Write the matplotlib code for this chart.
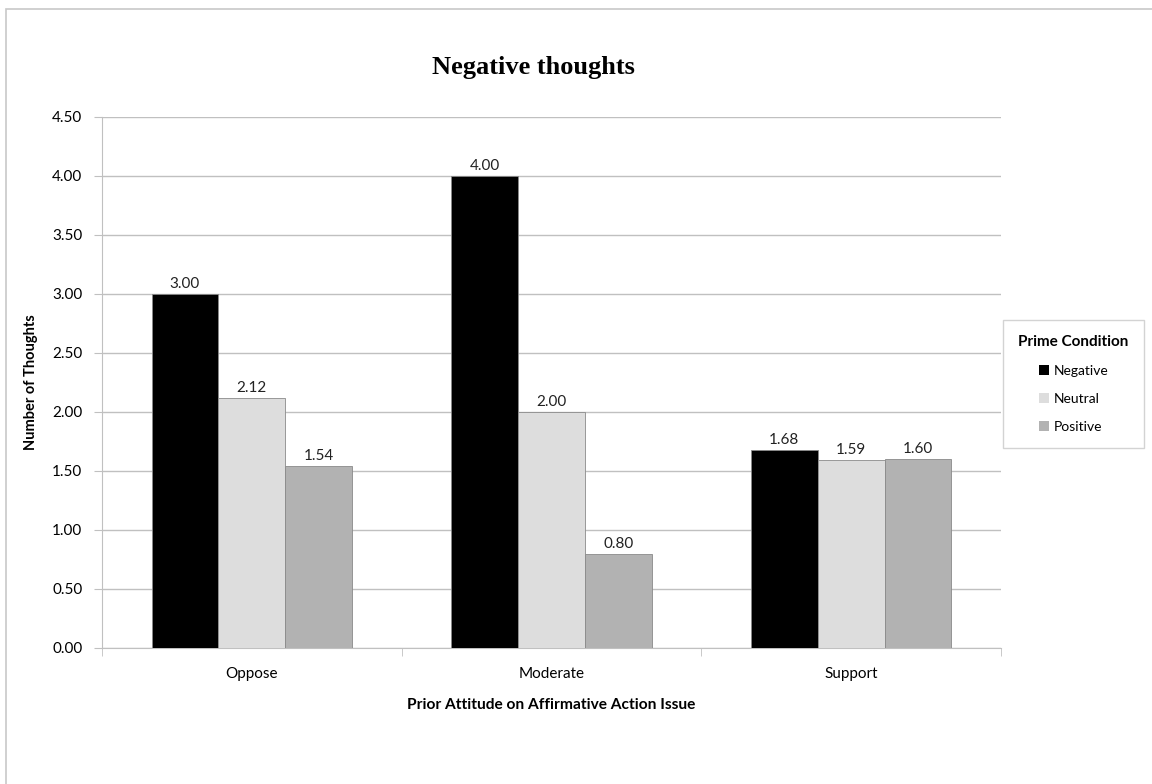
import numpy as np
import matplotlib.pyplot as plt
from matplotlib.patches import Rectangle

# Mean number of negative thoughts by prior attitude and prime condition
attitudes = ['Oppose', 'Moderate', 'Support']
conditions = ['Negative', 'Neutral', 'Positive']
negative = [3.00, 4.00, 1.68]
neutral = [2.12, 2.00, 1.59]
positive = [1.54, 0.80, 1.60]
yticks = [0.0, 0.5, 1.0, 1.5, 2.0, 2.5, 3.0, 3.5, 4.0, 4.5]

colors = ['#000000', '#dddddd', '#b2b2b2']
grid_col = '#c0c0c0'

plt.rcParams['font.family'] = ['Lato', 'DejaVu Sans']

fig = plt.figure(figsize=(11.52, 7.84), dpi=100)
ax = fig.add_axes([0.0885, 0.1735, 0.7805, 0.6775])

# outer chart frame (runs off the right and bottom edges)
fig.patches.append(Rectangle((0.005, -0.01), 1.0, 0.999, transform=fig.transFigure,
                             fill=False, edgecolor='#c8c8c8', linewidth=1.2))

x = np.arange(len(attitudes))
width = 0.223
series = [negative, neutral, positive]
for i, (vals, c, name) in enumerate(zip(series, colors, conditions)):
    bars = ax.bar(x + (i - 1) * width, vals, width, color=c, edgecolor='#8a8a8a',
                  linewidth=0.6, label=name, zorder=3)
    for b, v in zip(bars, vals):
        ax.text(b.get_x() + b.get_width() / 2, v + 0.025, f'{v:.2f}', ha='center',
                va='bottom', fontsize=11, color='#222222')

ax.set_xlim(-0.5, 2.5)
ax.set_ylim(0, 4.5)
ax.set_yticks(yticks)
ax.set_yticklabels([f'{t:.2f}' for t in yticks], fontsize=11)
ax.yaxis.grid(True, color=grid_col, linewidth=1.0, zorder=0)
ax.set_axisbelow(True)

# category labels centred, tick marks on category boundaries
ax.set_xticks(x)
ax.set_xticklabels(attitudes, fontsize=11)
ax.tick_params(axis='x', length=0, pad=14)
ax.set_xticks([-0.5, 0.5, 1.5, 2.5], minor=True)
ax.tick_params(axis='x', which='minor', length=6, color=grid_col, direction='out')
ax.tick_params(axis='y', length=6, color=grid_col, pad=8)

for side in ['top', 'right']:
    ax.spines[side].set_visible(False)
ax.spines['left'].set_color(grid_col)
ax.spines['bottom'].set_color(grid_col)

ax.set_ylabel('Number of Thoughts', fontsize=10.5, fontweight='bold', labelpad=10)
ax.set_xlabel('Prior Attitude on Affirmative Action Issue', fontsize=11.2,
              fontweight='bold', labelpad=12)

fig.text(0.463, 0.914, 'Negative thoughts', ha='center', va='center', fontsize=19,
         fontweight='bold', family='Liberation Serif')

leg = ax.legend(title='Prime Condition', loc='center left', bbox_to_anchor=(1.002, 0.497),
                borderaxespad=0, fontsize=10,
                title_fontproperties={'weight': 'bold', 'size': 11},
                frameon=True, fancybox=False, edgecolor='#c8c8c8', handlelength=0.75,
                handleheight=0.75, handletextpad=0.3, labelspacing=1.15, borderpad=1.1)
leg.get_frame().set_linewidth(1.0)
for h in leg.legend_handles:
    h.set_edgecolor('none')

fig.savefig('out.png', dpi=100)
